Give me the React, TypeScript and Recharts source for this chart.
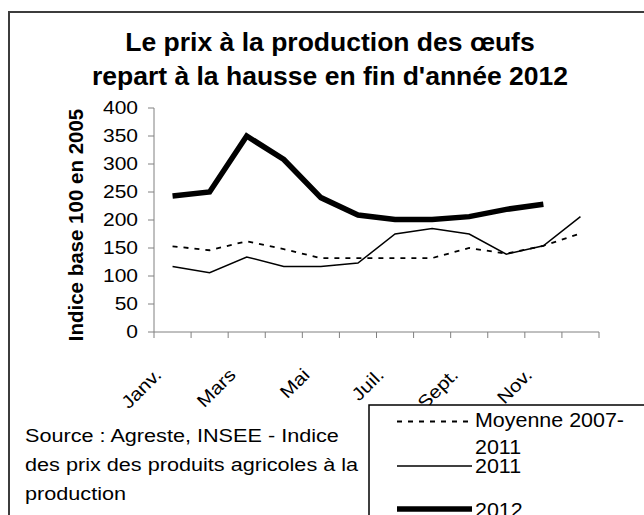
import { LineChart, Line, XAxis, YAxis } from "recharts";

const MONTHS = ["Janv.", "Févr.", "Mars", "Avr.", "Mai", "Juin", "Juil.", "Août", "Sept.", "Oct.", "Nov.", "Déc."];
const MOYENNE = [153, 146, 162, 148, 132, 132, 132, 132, 150, 140, 154, 176];
const Y2011 = [117, 106, 134, 117, 117, 123, 175, 185, 175, 139, 154, 206];
const Y2012 = [243, 250, 350, 308, 240, 209, 201, 201, 206, 219, 228, null];
const Y_TICKS = [0, 50, 100, 150, 200, 250, 300, 350, 400];
const X_TICKS = Array.from({ length: MONTHS.length + 1 }, (_, i) => i);

const TITLE = ["Le prix à la production des œufs", "repart à la hausse en fin d'année 2012"];
const Y_LABEL = "Indice base 100 en 2005";
const SOURCE = ["Source : Agreste, INSEE - Indice", "des prix des produits agricoles à la", "production"];

const data = MONTHS.map((m, i) => ({
  pos: i + 0.5,
  month: m,
  moyenne: MOYENNE[i],
  y2011: Y2011[i],
  y2012: Y2012[i],
}));

const FONT = "'Liberation Sans', Arial, sans-serif";
const W = 636;
const H = 507;
const M = { top: 100, right: 45, bottom: 123, left: 86 };
const HALF_STEP = (W - M.left - 60 - M.right) / MONTHS.length / 2;

// only every other month gets a label, written under the middle of its category
function MonthTick(props: any) {
  const { x, y, payload } = props;
  const v = payload.value;
  if (v % 2 !== 0 || v >= MONTHS.length) return null;
  return (
    <g transform={`translate(${x + HALF_STEP - 10},${y + 38}) rotate(-45) scale(1.15,1)`}>
      <text x={0} y={0} textAnchor="end" fontFamily={FONT} fontSize={18} fill="#000">
        {MONTHS[v]}
      </text>
    </g>
  );
}

function ValueTick(props: any) {
  const { x, y, payload } = props;
  return (
    <g transform={`translate(${x},${y}) scale(1.2,1)`}>
      <text x={0} y={0} dy="0.355em" textAnchor="end" fontFamily={FONT} fontSize={17.5} fill="#000">
        {payload.value}
      </text>
    </g>
  );
}

function Overlay() {
  return (
    <svg width={W} height={H} style={{ position: "absolute", left: 0, top: 0, pointerEvents: "none" }}>
      {TITLE.map((t, i) => (
        <text key={t} x={322} y={43 + i * 33.5} textAnchor="middle" fontFamily={FONT} fontSize={26.5} fontWeight="bold" fill="#000">
          {t}
        </text>
      ))}
      <text
        transform="translate(75,217) rotate(-90)"
        textAnchor="middle"
        fontFamily={FONT}
        fontSize={20.5}
        fontWeight="bold"
        fill="#000"
      >
        {Y_LABEL}
      </text>
      {SOURCE.map((s, i) => (
        <g key={s} transform={`translate(17,${434 + i * 29}) scale(1.17,1)`}>
          <text x={0} y={0} fontFamily={FONT} fontSize={18.5} fill="#000">
            {s}
          </text>
        </g>
      ))}
      <rect x={361} y={397} width={400} height={200} fill="#fff" stroke="#000" strokeWidth={1.5} />
      <line x1={389} x2={464} y1={413.5} y2={413.5} stroke="#000" strokeWidth={1.8} strokeDasharray="5 6" />
      <line x1={389} x2={464} y1={458} y2={458} stroke="#000" strokeWidth={1.5} />
      <line x1={389} x2={464} y1={501} y2={501} stroke="#000" strokeWidth={5.5} />
      {[
        ["Moyenne 2007-", 419],
        ["2011", 446],
        ["2011", 465],
        ["2012", 509],
      ].map(([t, y], i) => (
        <g key={i} transform={`translate(467,${y}) scale(1.1,1)`}>
          <text x={0} y={0} fontFamily={FONT} fontSize={19.5} fill="#000">
            {t}
          </text>
        </g>
      ))}
    </svg>
  );
}

export default function App() {
  return (
    <div
      style={{
        position: "absolute",
        left: 8,
        top: 8,
        width: W,
        height: H,
        overflow: "hidden",
        background: "#fff",
      }}
    >
      <div
        style={{
          position: "absolute",
          left: 0,
          top: 3,
          width: 800,
          height: 800,
          border: "2px solid #3c3c3c",
          boxSizing: "border-box",
        }}
      />
      <LineChart width={W} height={H} data={data} margin={M} style={{ position: "absolute", left: 0, top: 0 }}>
        <XAxis
          dataKey="pos"
          type="number"
          domain={[0, MONTHS.length]}
          ticks={X_TICKS}
          interval={0}
          tickSize={6}
          tickMargin={0}
          height={60}
          stroke="#808080"
          tick={<MonthTick />}
        />
        <YAxis
          domain={[0, 400]}
          ticks={Y_TICKS}
          interval={0}
          width={60}
          tickSize={6}
          tickMargin={10}
          stroke="#808080"
          tick={<ValueTick />}
        />
        <Line dataKey="moyenne" type="linear" stroke="#000" strokeWidth={1.8} strokeDasharray="5 6" dot={false} isAnimationActive={false} />
        <Line dataKey="y2011" type="linear" stroke="#000" strokeWidth={1.5} dot={false} isAnimationActive={false} />
        <Line dataKey="y2012" type="linear" stroke="#000" strokeWidth={5.5} dot={false} isAnimationActive={false} />
      </LineChart>
      <Overlay />
    </div>
  );
}
